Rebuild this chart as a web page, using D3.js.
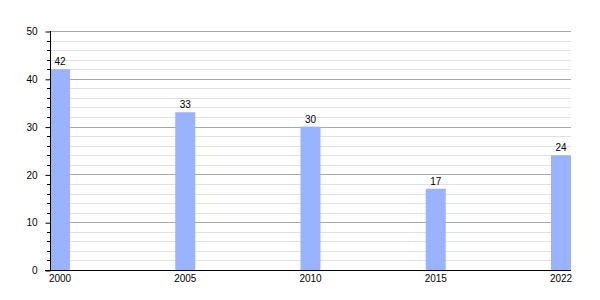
<!DOCTYPE html>
<html>
<head>
<meta charset="utf-8">
<script src="https://cdn.jsdelivr.net/npm/d3@7"></script>
<style>
  body { margin: 0; background: #fff; }
  text { font-family: "Liberation Sans", Arial, sans-serif; }
</style>
</head>
<body>
<svg id="chart" width="600" height="300"></svg>
<script>
const years = ['2000', '2005', '2010', '2015', '2022'];
const values = [42, 33, 30, 17, 24];
const majorTicks = [0, 10, 20, 30, 40, 50];

const svg = d3.select('#chart');
const mLeft = 50, mRight = 571, mTop = 31, mBottom = 270;
const barW = 20;

const x = d3.scalePoint().domain(years).range([mLeft, mRight - barW]);
const y = d3.scaleLinear().domain([0, 50]).range([mBottom, mTop]);

// minor grid every 2
const minor = d3.range(2, 50, 2).filter(v => v % 10 !== 0);
svg.append('g').selectAll('line')
    .data(minor)
    .join('line')
    .attr('x1', mLeft).attr('x2', mRight)
    .attr('y1', d => Math.round(y(d)) + 0.5).attr('y2', d => Math.round(y(d)) + 0.5)
    .attr('stroke', '#e0e0e0');

// major grid
svg.append('g').selectAll('line')
    .data(majorTicks.filter(d => d > 0))
    .join('line')
    .attr('x1', mLeft).attr('x2', mRight)
    .attr('y1', d => Math.round(y(d)) + 0.5).attr('y2', d => Math.round(y(d)) + 0.5)
    .attr('stroke', '#a8a8a8');

// bars
const data = years.map((yr, i) => ({ yr, v: values[i] }));
svg.append('g').selectAll('rect')
    .data(data)
    .join('rect')
    .attr('x', d => x(d.yr))
    .attr('y', d => y(d.v))
    .attr('width', barW)
    .attr('height', d => mBottom - y(d.v))
    .attr('fill', '#99b3ff');

// value labels
svg.append('g').selectAll('text')
    .data(data)
    .join('text')
    .attr('x', d => x(d.yr) + barW / 2)
    .attr('y', d => y(d.v) - 4)
    .attr('text-anchor', 'middle')
    .attr('font-size', 10)
    .attr('fill', '#000')
    .text(d => d.v);

// y axis minor ticks
svg.append('g').selectAll('line')
    .data(minor)
    .join('line')
    .attr('x1', mLeft - 3).attr('x2', mLeft)
    .attr('y1', d => Math.round(y(d)) + 0.5).attr('y2', d => Math.round(y(d)) + 0.5)
    .attr('stroke', '#000');

// y axis
const yAxis = d3.axisLeft(y).tickValues(majorTicks).tickSize(5).tickPadding(8);
const gy = svg.append('g')
    .attr('transform', `translate(${mLeft + 0.5},0.5)`)
    .call(yAxis);
gy.selectAll('text').attr('font-size', 10).attr('font-family', '"Liberation Sans", Arial, sans-serif').attr('fill', '#000');
gy.selectAll('line').attr('stroke', '#000');
gy.select('.domain').attr('stroke', '#000').attr('d', `M0,${mTop - 0.5}V${mBottom}`);

// x axis
svg.append('line')
    .attr('x1', mLeft - 5).attr('x2', mRight)
    .attr('y1', mBottom + 0.5).attr('y2', mBottom + 0.5)
    .attr('stroke', '#000');

svg.append('g').selectAll('text')
    .data(years)
    .join('text')
    .attr('x', d => x(d) + barW / 2)
    .attr('y', mBottom + 12)
    .attr('text-anchor', 'middle')
    .attr('font-size', 10)
    .attr('fill', '#000')
    .text(d => d);
</script>
</body>
</html>
